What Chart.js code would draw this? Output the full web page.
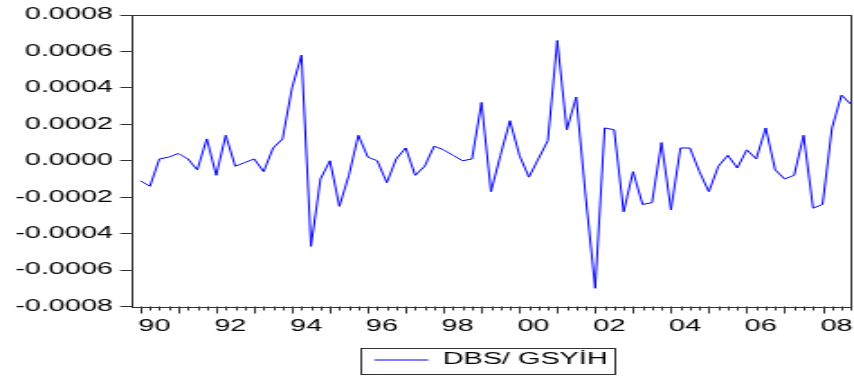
<!DOCTYPE html>
<html>
<head>
<meta charset="utf-8">
<title>DBS / GSYİH</title>
<script src="https://cdn.jsdelivr.net/npm/chart.js@4.4.1/dist/chart.umd.min.js"></script>
<style>
    html, body { margin: 0; padding: 0; background: #fff; }
    /* the graph is laid out narrow and widened sideways, like the exported picture */
    #wrap {
        position: absolute; left: 0; top: 0;
        width: 474px; height: 378px;
        transform: scaleX(1.8017); transform-origin: 0 0;
    }
</style>
</head>
<body>
<div id="wrap"><canvas id="ratioChart"></canvas></div>
<script>
// ============================================
// DBS / GSYİH - quarterly series 1990Q1 .. 2008Q4
// ============================================

const startYear = 1990;
const seriesLabel = 'DBS/ GSYİH';

const ratio = [
    -0.00011, -0.00014,  0.00001,  0.00002,   // 1990
     0.00004,  0.00001, -0.00005,  0.00012,   // 1991
    -0.00008,  0.00014, -0.00003, -0.00001,   // 1992
     0.00001, -0.00006,  0.00007,  0.00012,   // 1993
     0.00040,  0.00058, -0.00047, -0.00010,   // 1994
     0.00000, -0.00025, -0.00008,  0.00014,   // 1995
     0.00002,  0.00000, -0.00012,  0.00001,   // 1996
     0.00007, -0.00008, -0.00003,  0.00008,   // 1997
     0.00006,  0.00003,  0.00000,  0.00001,   // 1998
     0.00032, -0.00017,  0.00003,  0.00022,   // 1999
     0.00003, -0.00009,  0.00001,  0.00011,   // 2000
     0.00066,  0.00017,  0.00035, -0.00020,   // 2001
    -0.00070,  0.00018,  0.00017, -0.00028,   // 2002
    -0.00006, -0.00024, -0.00023,  0.00010,   // 2003
    -0.00027,  0.00007,  0.00007, -0.00006,   // 2004
    -0.00017, -0.00003,  0.00003, -0.00004,   // 2005
     0.00006,  0.00001,  0.00018, -0.00005,   // 2006
    -0.00010, -0.00008,  0.00014, -0.00026,   // 2007
    -0.00024,  0.00018,  0.00036,  0.00031    // 2008
];

// one label every second year, on the first quarter
const yearTicks = ['90', '92', '94', '96', '98', '00', '02', '04', '06', '08'];

const quarters = ratio.map((v, i) => `${startYear + Math.floor(i / 4)}Q${(i % 4) + 1}`);

const frameColor = '#333';
const lineColor = '#0000ff';

Chart.defaults.font.family = '"Liberation Sans", Arial, sans-serif';
Chart.defaults.font.size = 16;
Chart.defaults.color = '#000';

// box round the plot area
const framePlugin = {
    id: 'frame',
    beforeDatasetsDraw(chart) {
        const { ctx, chartArea: a } = chart;
        ctx.save();
        ctx.strokeStyle = frameColor;
        ctx.lineWidth = 1;
        ctx.strokeRect(Math.round(a.left) + 0.5, Math.round(a.top) + 0.5,
            Math.round(a.right - a.left) - 1, Math.round(a.bottom - a.top));
        ctx.restore();
    }
};

// quarter ticks under the time axis, longer ones at the start of each year
const quarterTicks = {
    id: 'quarterTicks',
    afterDraw(chart) {
        const { ctx, chartArea: a } = chart;
        const x = chart.scales.x;
        ctx.save();
        ctx.strokeStyle = frameColor;
        ctx.lineWidth = 1;
        for (let i = 0; i < ratio.length; i++) {
            const px = Math.round(x.getPixelForValue(i)) + 0.5;
            const len = i % 4 === 0 ? 7 : 4;
            ctx.beginPath();
            ctx.moveTo(px, a.bottom);
            ctx.lineTo(px, a.bottom + len);
            ctx.stroke();
        }
        ctx.restore();
    }
};

// border round the legend
const legendBox = {
    id: 'legendBox',
    afterDraw(chart) {
        const hb = chart.legend && chart.legend.legendHitBoxes[0];
        if (!hb) return;
        const { ctx } = chart;
        ctx.save();
        ctx.strokeStyle = frameColor;
        ctx.lineWidth = 1;
        ctx.strokeRect(Math.round(hb.left - 8) + 0.5, Math.round(hb.top - 4) + 0.5,
            Math.round(hb.width + 11), Math.round(hb.height + 10));
        ctx.restore();
    }
};

const ctx = document.getElementById('ratioChart').getContext('2d');

new Chart(ctx, {
    type: 'line',
    data: {
        labels: quarters,
        datasets: [{
            label: seriesLabel,
            data: ratio.map((v, i) => ({ x: i, y: v })),
            borderColor: lineColor,
            backgroundColor: lineColor,
            borderWidth: 1,
            pointRadius: 0,
            tension: 0,
            fill: false
        }]
    },
    options: {
        responsive: true,
        maintainAspectRatio: false,
        animation: false,
        layout: { padding: { top: 15, right: 1.7, left: 0, bottom: 0 } },
        plugins: {
            tooltip: { enabled: false },
            legend: {
                position: 'bottom',
                fullSize: false,
                labels: {
                    usePointStyle: true,
                    pointStyle: 'line',
                    pointStyleWidth: 30,
                    padding: 10,
                    color: '#000',
                    font: { size: 16 }
                }
            }
        },
        scales: {
            x: {
                type: 'linear',
                min: -1,
                max: ratio.length - 1,
                border: { display: false },
                grid: { display: false, drawTicks: false },
                ticks: {
                    stepSize: 1,
                    autoSkip: false,
                    maxRotation: 0,
                    padding: 10,
                    labelOffset: 7.8,
                    callback: (v) => {
                        const i = Math.round(v);
                        return i >= 0 && i % 8 === 0 ? yearTicks[i / 8] : '';
                    }
                },
                afterFit: (scale) => {
                    scale.height = 35.5;
                    scale.paddingLeft = 0;
                    scale.paddingRight = 0;
                }
            },
            y: {
                min: -0.0008,
                max: 0.0008,
                border: { display: false },
                grid: { drawOnChartArea: false, drawTicks: true, tickLength: 6, tickColor: frameColor },
                ticks: {
                    stepSize: 0.0002,
                    padding: 4,
                    callback: (v) => v.toFixed(4)
                },
                afterFit: (scale) => {
                    scale.width = 72.7;
                    scale.paddingTop = 0;
                    scale.paddingBottom = 0;
                }
            }
        }
    },
    plugins: [framePlugin, quarterTicks, legendBox]
});
</script>
</body>
</html>
